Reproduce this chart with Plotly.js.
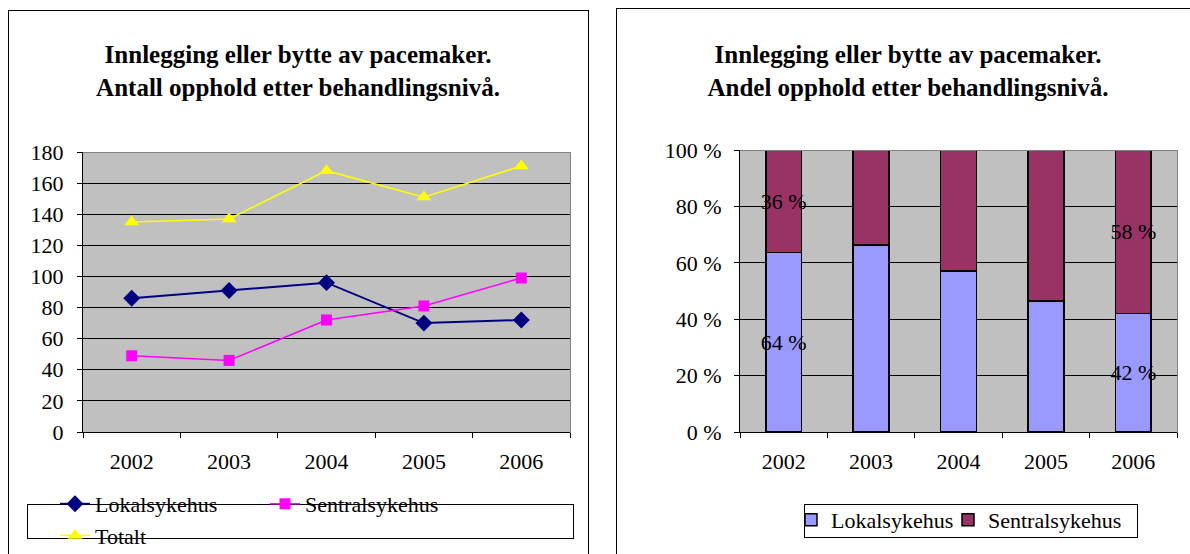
<!DOCTYPE html>
<html>
<head>
<meta charset="utf-8">
<script src="https://cdn.plot.ly/plotly-3.0.1.min.js"></script>
<style>
html,body{margin:0;padding:0;background:#fff;}
svg text { font-family: 'Liberation Serif', serif !important; }
.box{position:absolute;box-sizing:border-box;}
</style>
</head>
<body>
<div style="position:relative;width:1190px;height:554px;overflow:hidden;">
  <div class="box" style="left:8px;top:10px;width:581px;height:700px;border:1px solid #000;z-index:0"></div>
  <div class="box" style="left:616px;top:8px;width:700px;height:700px;border:1px solid #000;z-index:0"></div>
  <div class="box" style="left:27px;top:504px;width:547px;height:35px;border:1px solid #000;background:#fff;z-index:1"></div>
  <div class="box" style="left:804px;top:504px;width:334px;height:34px;border:1px solid #000;background:#fff;z-index:1"></div>
  <div id="left" style="position:absolute;left:0;top:0;width:600px;height:554px;z-index:2"></div>
  <div id="right" style="position:absolute;left:600px;top:0;width:590px;height:554px;z-index:2"></div>
  <div class="box" style="left:83px;top:152px;width:488px;height:281px;border-top:1px solid #808080;border-right:1px solid #808080;z-index:3"></div>
  <div class="box" style="left:740px;top:150px;width:438px;height:283px;border-top:1px solid #808080;border-right:1px solid #808080;z-index:3"></div>
</div>
<script>
// ---- data ----
var years = ['2002', '2003', '2004', '2005', '2006'];
var lokalAntall = [86, 91, 96, 70, 72];
var sentralAntall = [49, 46, 72, 81, 99];
var totaltAntall = [135, 137, 168, 151, 171];

var lokalAndel = [63.7, 66.4, 57.1, 46.4, 42.1];
var sentralAndel = [36.3, 33.6, 42.9, 53.6, 57.9];
var lokalLabels = ['64 %', '', '', '', '42 %'];
var sentralLabels = ['36 %', '', '', '', '58 %'];

var titleLeft1 = 'Innlegging eller bytte av pacemaker.';
var titleLeft2 = 'Antall opphold etter behandlingsnivå.';
var titleRight1 = 'Innlegging eller bytte av pacemaker.';
var titleRight2 = 'Andel opphold etter behandlingsnivå.';

(function () {
  var FAM = 'Liberation Serif';
  function fnt(size) { return {family: FAM, size: size, color: '#000'}; }

  function xax() {
    return {type: 'category', tickson: 'boundaries', range: [-0.5, 4.5], autorange: false,
      ticks: 'outside', ticklen: 5, tickcolor: '#000', tickwidth: 1,
      showline: true, linecolor: '#000', linewidth: 1, showgrid: false,
      tickfont: fnt(22), ticklabelstandoff: 10};
  }
  function yax(range, suffix, standoff) {
    return {range: range, autorange: false, dtick: 20, tick0: 0,
      ticks: 'outside', ticklen: 5, tickcolor: '#000', tickwidth: 1,
      showline: true, linecolor: '#000', linewidth: 1,
      showgrid: true, gridcolor: '#000', gridwidth: 1, zeroline: false,
      ticksuffix: suffix, tickfont: fnt(22), ticklabelstandoff: standoff};
  }

  // ---- left: counts ----
  var dataL = [
    {x: years, y: lokalAntall, name: 'Lokalsykehus', type: 'scatter', mode: 'lines+markers',
     legendwidth: 150,
     line: {color: '#000080', width: 2}, marker: {symbol: 'diamond', size: 13, color: '#000080'}},
    {x: years, y: sentralAntall, name: 'Sentralsykehus', type: 'scatter', mode: 'lines+markers',
     legendwidth: 165,
     line: {color: '#FF00FF', width: 1.5}, marker: {symbol: 'square', size: 11, color: '#FF00FF'}},
    {x: years, y: totaltAntall, name: 'Totalt', type: 'scatter', mode: 'lines+markers',
     line: {color: '#FFFF00', width: 1.5}, marker: {symbol: 'triangle-up', size: 13, color: '#FFFF00'}}
  ];
  var layL = {
    width: 600, height: 554,
    margin: {l: 83, r: 30, t: 152, b: 122, pad: 0},
    font: fnt(22),
    paper_bgcolor: 'rgba(0,0,0,0)', plot_bgcolor: '#C0C0C0',
    title: {text: '<b>' + titleLeft1 + '</b><br><b>' + titleLeft2 + '</b>',
      xref: 'container', yref: 'container', x: 298 / 600, y: 1 - 63 / 554,
      xanchor: 'center', yanchor: 'middle', font: fnt(25)},
    xaxis: xax(),
    yaxis: yax([0, 180], '', 9),
    showlegend: true,
    legend: {orientation: 'h', xref: 'container', yref: 'container',
      x: 55 / 600, xanchor: 'left', y: 1 - 520 / 554, yanchor: 'middle',
      bgcolor: 'rgba(0,0,0,0)', borderwidth: 0, font: fnt(22), traceorder: 'normal'}
  };

  // ---- right: shares ----
  var dataR = [
    {x: years, y: lokalAndel, name: 'Lokalsykehus', type: 'bar', legendwidth: 112,
     marker: {color: '#9999FF', line: {color: '#000', width: 1.5}},
     text: lokalLabels, textposition: 'inside', insidetextanchor: 'middle', textangle: 0,
     constraintext: 'none', textfont: fnt(22)},
    {x: years, y: sentralAndel, name: 'Sentralsykehus', type: 'bar',
     marker: {color: '#993366', line: {color: '#000', width: 1.5}},
     text: sentralLabels, textposition: 'inside', insidetextanchor: 'middle', textangle: 0,
     constraintext: 'none', textfont: fnt(22)}
  ];
  var layR = {
    width: 590, height: 554,
    margin: {l: 140, r: 13, t: 150, b: 122, pad: 0},
    font: fnt(22),
    paper_bgcolor: 'rgba(0,0,0,0)', plot_bgcolor: '#C0C0C0',
    barmode: 'stack', bargap: 0.59,
    title: {text: '<b>' + titleRight1 + '</b><br><b>' + titleRight2 + '</b>',
      xref: 'container', yref: 'container', x: 308 / 590, y: 1 - 63 / 554,
      xanchor: 'center', yanchor: 'middle', font: fnt(25)},
    xaxis: xax(),
    yaxis: yax([0, 100], ' %', 8),
    showlegend: true,
    legend: {orientation: 'h', xref: 'container', yref: 'container',
      x: 191 / 590, xanchor: 'left', y: 1 - 520 / 554, yanchor: 'middle',
      bgcolor: 'rgba(0,0,0,0)', borderwidth: 0, font: fnt(22), traceorder: 'normal'}
  };

  Plotly.newPlot('left', dataL, layL, {staticPlot: true});
  Plotly.newPlot('right', dataR, layR, {staticPlot: true});
})();
</script>
</body>
</html>
